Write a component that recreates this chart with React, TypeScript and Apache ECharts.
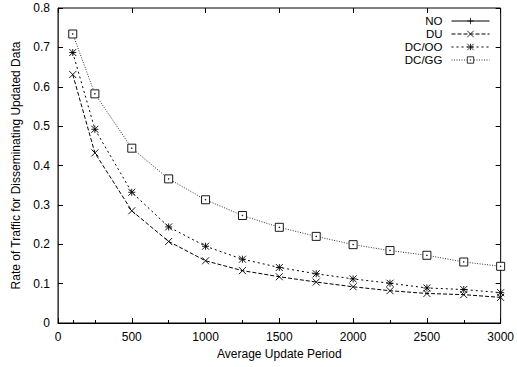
import React, { useEffect, useRef } from "react";
import * as echarts from "echarts";

const periods = [100, 250, 500, 750, 1000, 1250, 1500, 1750, 2000, 2250, 2500, 2750, 3000];
// NO lies above the plotted range (rate of 1), so it is clipped, as in the reference
const noValues = [1, 1, 1, 1, 1, 1, 1, 1, 1, 1, 1, 1, 1];
const duValues = [0.631, 0.432, 0.285, 0.207, 0.158, 0.133, 0.1175, 0.104, 0.092, 0.082, 0.075, 0.072, 0.065];
const dcooValues = [0.687, 0.492, 0.332, 0.244, 0.195, 0.162, 0.141, 0.125, 0.112, 0.101, 0.089, 0.085, 0.077];
const dcggValues = [0.734, 0.582, 0.444, 0.366, 0.313, 0.273, 0.243, 0.22, 0.199, 0.184, 0.172, 0.155, 0.144];
const minorTicks = [100, 250, 750, 1250, 1750, 2250, 2750];
const seriesNames = ["NO", "DU", "DC/OO", "DC/GG"];

const FONT = "'Liberation Sans', Arial, Helvetica, sans-serif";

const SYM_PLUS = "path://M0,5L10,5M5,0L5,10";
const SYM_X = "path://M0,0L10,10M10,0L0,10";
const SYM_STAR = "path://M0,0L10,10M10,0L0,10M0,5L10,5M5,0L5,10";
const SYM_BOX = "path://M0,0L10,0L10,10L0,10Z M4.6,4.6L5.4,4.6L5.4,5.4L4.6,5.4Z";

function pairs(values: number[]) {
  return periods.map((p, i) => [p, values[i]]);
}

export default function App() {
  const ref = useRef<HTMLDivElement>(null);
  useEffect(() => {
    if (!ref.current) return;
    const chart = echarts.init(ref.current, null, { renderer: "svg" });
    const mk = (
      name: string,
      values: number[],
      symbol: string,
      size: number,
      dash: number[] | "solid",
      fill: string,
      lineColor: string
    ) => ({
      name,
      type: "line",
      xAxisIndex: 0,
      yAxisIndex: 0,
      data: pairs(values),
      symbol,
      symbolSize: size,
      showAllSymbol: true,
      clip: true,
      lineStyle: { color: lineColor, width: 1, type: dash },
      itemStyle: { color: fill, borderColor: "#000", borderWidth: 0.9 },
      emphasis: { disabled: true },
      z: 2,
    });
    const legendTops = [15, 28, 41, 54];
    chart.setOption({
      animation: false,
      backgroundColor: "#fff",
      textStyle: { fontFamily: FONT },
      grid: {
        left: 58,
        right: 12,
        top: 8,
        bottom: 44,
        show: true,
        borderColor: "#000",
        borderWidth: 1,
      },
      legend: seriesNames.map((n, i) => ({
        data: [n],
        orient: "vertical",
        align: "right",
        right: 27,
        top: legendTops[i],
        padding: 0,
        itemWidth: 38,
        itemHeight: 8,
        selectedMode: false,
        lineStyle: { width: 1 },
        itemStyle: { borderWidth: 0.8 },
        textStyle: {
          fontSize: 11.5,
          lineHeight: 11,
          color: "#000",
          fontFamily: FONT,
          padding: [0, 4, 0, 0],
        },
      })),
      xAxis: [
        {
          type: "value",
          position: "bottom",
          min: 0,
          max: 3000,
          interval: 500,
          name: "Average Update Period",
          nameLocation: "middle",
          nameGap: 25,
          nameTextStyle: { fontSize: 12, color: "#000", fontFamily: FONT },
          axisLine: { show: true, onZero: false, lineStyle: { color: "#000", width: 1 } },
          axisTick: { show: true, inside: true, length: 5, lineStyle: { color: "#000" } },
          axisLabel: {
            fontSize: 12,
            color: "#000",
            margin: 8,
            fontFamily: FONT,
            formatter: (v: number) => String(v),
          },
          splitLine: { show: false },
        },
        {
          type: "value",
          position: "top",
          min: 0,
          max: 3000,
          interval: 500,
          axisLine: { show: false, onZero: false },
          axisTick: { show: true, inside: true, length: 5, lineStyle: { color: "#000" } },
          axisLabel: { show: false },
          splitLine: { show: false },
        },
        {
          type: "value",
          position: "bottom",
          min: 0,
          max: 3000,
          axisLine: { show: false, onZero: false },
          axisTick: {
            show: true,
            inside: true,
            length: 3,
            customValues: minorTicks,
            lineStyle: { color: "#000" },
          },
          axisLabel: { show: false },
          splitLine: { show: false },
        },
      ],
      yAxis: [
        {
          type: "value",
          position: "left",
          min: 0,
          max: 0.8,
          interval: 0.1,
          name: "Rate of Traffic for Disseminating Updated Data",
          nameLocation: "middle",
          nameGap: 33,
          nameTextStyle: { fontSize: 12, color: "#000", fontFamily: FONT },
          axisLine: { show: true, onZero: false, lineStyle: { color: "#444", width: 1 } },
          axisTick: { show: true, inside: true, length: 5, lineStyle: { color: "#000" } },
          axisLabel: { fontSize: 12, color: "#000", margin: 8, fontFamily: FONT },
          splitLine: { show: false },
        },
        {
          type: "value",
          position: "right",
          min: 0,
          max: 0.8,
          interval: 0.1,
          axisLine: { show: false, onZero: false },
          axisTick: { show: true, inside: true, length: 5, lineStyle: { color: "#000" } },
          axisLabel: { show: false },
          splitLine: { show: false },
        },
      ],
      series: [
        mk("NO", noValues, SYM_PLUS, 7, "solid", "#000", "#000"),
        mk("DU", duValues, SYM_X, 7, [4, 2], "#000", "#000"),
        mk("DC/OO", dcooValues, SYM_STAR, 7, [2, 3], "#000", "#000"),
        mk("DC/GG", dcggValues, SYM_BOX, 8, [1, 1.5], "#fff", "#333"),
      ],
    });
    return () => chart.dispose();
  }, []);
  return (
    <div
      ref={ref}
      style={{ position: "absolute", left: 0, top: 0, width: 517, height: 367, background: "#fff" }}
    />
  );
}
